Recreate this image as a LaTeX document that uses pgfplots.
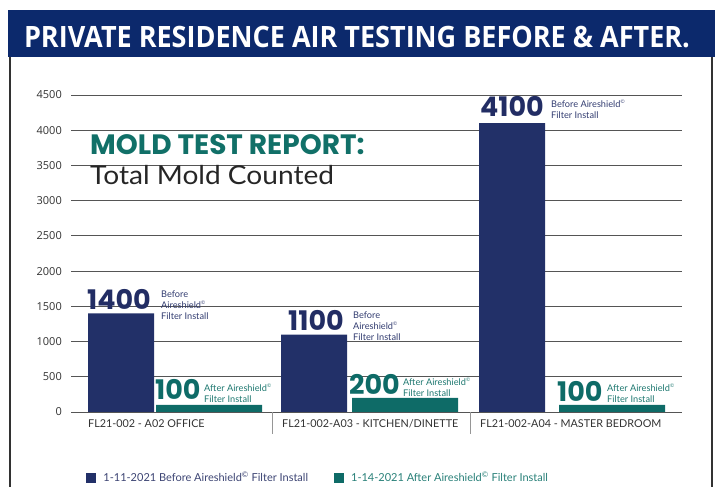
\documentclass[border=0pt]{standalone}
\usepackage{fontspec}
\usepackage{pgfplots}
\pgfplotsset{compat=1.18}
\usepackage{graphicx}
\setmainfont{Lato}
\newfontfamily\pop{Poppins}
\newfontfamily\osans{Open Sans}
\definecolor{bannerc}{RGB}{12,41,108}
\definecolor{navybar}{RGB}{34,48,104}
\definecolor{tealbar}{RGB}{14,107,103}
\definecolor{titleteal}{RGB}{17,112,104}
\definecolor{numnavy}{RGB}{34,45,100}
\definecolor{smallnavy}{RGB}{50,60,112}
\definecolor{smallteal}{RGB}{30,120,112}
\definecolor{legnavy}{RGB}{60,68,115}
\definecolor{legteal}{RGB}{40,128,120}
\definecolor{gridc}{RGB}{85,85,85}
\definecolor{framec}{RGB}{50,50,50}
\definecolor{tickc}{RGB}{50,50,50}
\definecolor{sepc}{RGB}{150,150,150}
\newcommand{\cp}{\raisebox{0.45em}{\fontsize{5}{5}\selectfont ©}}
\begin{document}
\begin{tikzpicture}[x=1pt,y=1pt]
\path[use as bounding box] (0,0) rectangle (715,487);
\fill[bannerc] (8,430) rectangle (715,477);
\node[anchor=base, text=white, inner sep=0pt] at (357,439) {\scalebox{0.965}[1.05]{\osans\bfseries\fontsize{28}{28}\selectfont PRIVATE RESIDENCE AIR TESTING BEFORE \& AFTER.}};
\draw[line width=2.5pt, framec] (10,430) -- (10,0);
\draw[line width=1.5pt, framec] (712,430) -- (712,0);
\begin{axis}[
  at={(71pt,75pt)}, anchor=south west, scale only axis,
  width=611pt, height=317pt,
  xmin=71, xmax=682, ymin=0, ymax=4500,
  ytick={0,500,...,4500},
  ymajorgrids, grid style={gridc, line width=0.8pt},
  axis line style={draw=none},
  major tick length=0pt,
  xtick pos=lower, ytick pos=left,
  /pgf/number format/1000 sep={},
  /pgf/number format/assume math mode=true,
  yticklabel style={anchor=east, inner sep=0pt, xshift=-9pt, font=\osans\fontsize{11}{12}\selectfont, text=tickc},
  xtick={88,282,480},
  xticklabels={FL21-002 - A02 OFFICE, FL21-002-A03 - KITCHEN/DINETTE, FL21-002-A04 - MASTER BEDROOM},
  xticklabel style={anchor=base west, inner sep=0pt, yshift=-16pt, font=\fontsize{10.8}{12}\selectfont, text=tickc},
  extra x ticks={272,470},
  extra x tick labels={},
  extra x tick style={major tick length=22pt, tick align=outside, tick style={sepc, line width=0.8pt}},
  ybar,
  legend columns=2,
  legend cell align=left,
  legend style={at={(0.02,-0.208)}, anchor=west, draw=none, fill=none,
    font=\fontsize{11}{13}\selectfont,
    /tikz/every even column/.append style={column sep=24pt}},
]
\addplot[fill=navybar, draw=none, bar width=66, bar shift=0,
  legend image code/.code={\fill[navybar] (0pt,-5pt) rectangle (10pt,5pt);}]
  coordinates {(121,1400) (314,1100) (512,4100)};
\addlegendentry{\hspace{5pt}\textcolor{legnavy}{1-11-2021 Before Aireshield\textsuperscript{©} Filter Install}}
\addplot[fill=tealbar, draw=none, bar width=106, bar shift=0,
  legend image code/.code={\fill[tealbar] (0pt,-5pt) rectangle (10pt,5pt);}]
  coordinates {(209,100) (405,200) (612,100)};
\addlegendentry{\hspace{5pt}\textcolor{legteal}{1-14-2021 After Aireshield\textsuperscript{©} Filter Install}}
\end{axis}
% annotations
\node[anchor=base west, inner sep=0pt, text=titleteal, font=\pop\bfseries\fontsize{28}{28}\selectfont] at (90,332) {MOLD TEST REPORT:};
\node[anchor=base west, inner sep=0pt, text=black!85, font=\fontsize{26}{26}\selectfont] at (90,302) {\scalebox{1.08}[1]{Total Mold Counted}};
\tikzset{bignum/.style={anchor=base west, inner sep=0pt, font=\pop\bfseries\fontsize{27}{27}\selectfont},
  smalltxt/.style={anchor=north west, inner sep=0pt, align=left, font=\fontsize{9.2}{10.6}\selectfont}}
\node[bignum, text=numnavy] at (87,177) {1400};
\node[smalltxt, text=smallnavy] at (161,196) {Before\\Aireshield\cp\\Filter Install};
\node[bignum, text=numnavy] at (288,156) {1100};
\node[smalltxt, text=smallnavy] at (353,175) {Before\\Aireshield\cp\\Filter Install};
\node[bignum, text=numnavy] at (480,370) {4100};
\node[smalltxt, text=smallnavy] at (551,387) {Before Aireshield\cp\\Filter Install};
\node[bignum, text=tealbar] at (155,87) {100};
\node[smalltxt, text=smallteal] at (204,103) {After Aireshield\cp\\Filter Install};
\node[bignum, text=tealbar] at (349,92) {200};
\node[smalltxt, text=smallteal] at (403,109) {After Aireshield\cp\\Filter Install};
\node[bignum, text=tealbar] at (557,85) {100};
\node[smalltxt, text=smallteal] at (607,103) {After Aireshield\cp\\Filter Install};
\end{tikzpicture}
\end{document}
